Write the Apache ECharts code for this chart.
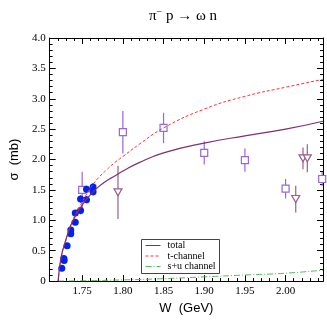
<!DOCTYPE html>
<html>
<head>
<meta charset="utf-8">
<script src="https://cdn.jsdelivr.net/npm/echarts@6/dist/echarts.min.js"></script>
<style>
  html, body { margin: 0; padding: 0; background: #fff; }
  #chart { width: 327px; height: 320px; }
</style>
</head>
<body>
<div id="chart"></div>
<script>
// axis ticks
var xMajor = [1.75, 1.80, 1.85, 1.90, 1.95, 2.00];
var xMinor = [1.72, 1.73, 1.74, 1.76, 1.77, 1.78, 1.79, 1.81, 1.82, 1.83, 1.84,
              1.86, 1.87, 1.88, 1.89, 1.91, 1.92, 1.93, 1.94, 1.96, 1.97, 1.98,
              1.99, 2.01, 2.02, 2.03, 2.04];

// curves  [W, sigma]
var totalCurve = [[1.7205, 0], [1.722, 0.2], [1.725, 0.45], [1.73, 0.68], [1.735, 0.88],
  [1.74, 1.03], [1.75, 1.25], [1.76, 1.42], [1.77, 1.55], [1.78, 1.65], [1.79, 1.73],
  [1.80, 1.81], [1.82, 1.95], [1.85, 2.11], [1.90, 2.27], [1.95, 2.39], [2.00, 2.50], [2.046, 2.63]];
var tChannel = [[1.7205, 0], [1.722, 0.2], [1.725, 0.45], [1.73, 0.68], [1.735, 0.9],
  [1.74, 1.05], [1.75, 1.3], [1.76, 1.53], [1.77, 1.7], [1.78, 1.83], [1.79, 1.95],
  [1.80, 2.05], [1.82, 2.25], [1.85, 2.52], [1.90, 2.83], [1.95, 3.04], [2.00, 3.19], [2.046, 3.32]];
var suChannel = [[1.7205, 0], [1.75, 0.005], [1.80, 0.02], [1.85, 0.04], [1.90, 0.07],
  [1.95, 0.1], [2.00, 0.13], [2.046, 0.18]];

// data points  [W, sigma, error]
var blueData = [[1.7249, 0.21, 0.04], [1.7275, 0.37, 0.04], [1.7278, 0.34, 0.04],
  [1.7315, 0.58, 0.04], [1.736, 0.84, 0.05], [1.736, 0.78, 0.05], [1.7415, 0.97, 0.05],
  [1.7415, 1.12, 0.05], [1.748, 1.16, 0.06], [1.748, 1.35, 0.06], [1.7553, 1.34, 0.06],
  [1.7553, 1.51, 0.06], [1.7634, 1.55, 0.06], [1.7634, 1.47, 0.06]];
var squareData = [[1.75, 1.50, 0.3], [1.80, 2.45, 0.35], [1.85, 2.52, 0.25],
  [1.90, 2.11, 0.19], [1.95, 1.99, 0.19], [2.00, 1.52, 0.16], [2.045, 1.68, 0.12]];
var triangleData = [[1.794, 1.46, 0.44], [2.0125, 1.35, 0.22], [2.0214, 2.02, 0.18],
  [2.0267, 2.02, 0.23]];

var chart = echarts.init(document.getElementById('chart'));

function errorBars(data, color) {
  return {
    type: 'custom',
    xAxisIndex: 0,
    yAxisIndex: 0,
    z: 2,
    silent: true,
    data: data,
    renderItem: function (params, api) {
      var top = api.coord([api.value(0), api.value(1) + api.value(2)]);
      var bot = api.coord([api.value(0), api.value(1) - api.value(2)]);
      return {
        type: 'line',
        shape: { x1: top[0], y1: top[1], x2: bot[0], y2: bot[1] },
        style: { stroke: color, lineWidth: 1.2 }
      };
    }
  };
}

var serif = 'Liberation Serif, DejaVu Serif, serif';
var sans = 'Liberation Sans, Arial, sans-serif';
var grid = { left: 32, top: 38, right: 4, bottom: 27 };

function xAx(pos, vals, len, labels) {
  return {
    type: 'value', position: pos, min: 1.71, max: 2.046,
    axisLine: { show: true, lineStyle: { color: '#000', width: 1 } },
    splitLine: { show: false },
    axisTick: { show: true, inside: true, length: len, customValues: vals,
      lineStyle: { color: '#000', width: 1 } },
    axisLabel: { show: labels, customValues: vals, margin: 5, color: '#000',
      fontFamily: serif, fontSize: 11,
      formatter: function (v) { return v.toFixed(2); } },
    name: labels ? 'W  (GeV)' : '', nameLocation: 'middle', nameGap: 18,
    nameTextStyle: { fontFamily: sans, fontSize: 13, color: '#000' }
  };
}

function yAx(pos, labels) {
  return {
    type: 'value', position: pos, min: 0, max: 4, interval: 0.5,
    axisLine: { show: true, lineStyle: { color: '#000', width: 1 } },
    splitLine: { show: false },
    axisTick: { show: true, inside: true, length: 6, lineStyle: { color: '#000' } },
    minorTick: { show: true, splitNumber: 5, length: 3, lineStyle: { color: '#000' } },
    axisLabel: { show: labels, margin: 4, color: '#000', fontFamily: serif, fontSize: 11,
      formatter: function (v) { return v === 0 ? '0' : v.toFixed(1); } },
    name: labels ? 'σ  (mb)' : '', nameLocation: 'middle', nameGap: 23,
    nameTextStyle: { fontFamily: sans, fontSize: 13, color: '#000' }
  };
}

var option = {
  backgroundColor: '#fff',
  animation: false,
  title: {
    text: 'π{s|−} p → ω n',
    left: 178, top: 2, textAlign: 'center',
    textStyle: { fontFamily: serif, fontSize: 15, fontWeight: 'normal', color: '#000',
      rich: { s: { fontFamily: serif, fontSize: 10, verticalAlign: 'top', padding: [0, 0, 8, 0] } } }
  },
  grid: grid,
  xAxis: [
    xAx('bottom', xMajor, 6, true),
    xAx('bottom', xMinor, 3, false),
    xAx('top', xMajor, 6, false),
    xAx('top', xMinor, 3, false)
  ],
  yAxis: [yAx('left', true), yAx('right', false)],
  series: [
    errorBars(blueData, '#2233cc'),
    errorBars(squareData, '#9966dd'),
    errorBars(triangleData, '#996088'),
    {
      type: 'scatter', data: squareData, symbol: 'rect', symbolSize: 7, z: 3,
      itemStyle: { color: '#fff', borderColor: '#9966dd', borderWidth: 1.2, opacity: 1 }
    },
    {
      type: 'scatter', data: triangleData, symbol: 'triangle', symbolSize: [8, 7],
      symbolRotate: 180, z: 3,
      itemStyle: { color: '#fff', borderColor: '#996088', borderWidth: 1.2, opacity: 1 }
    },
    {
      type: 'scatter', data: blueData, symbol: 'circle', symbolSize: 7, z: 4,
      itemStyle: { color: '#0022ee', opacity: 1 }
    },
    {
      type: 'line', data: suChannel, smooth: true, showSymbol: false, z: 5,
      lineStyle: { color: '#55bb55', width: 1, type: [6, 2, 1, 2] }
    },
    {
      type: 'line', data: tChannel, smooth: true, showSymbol: false, z: 5,
      lineStyle: { color: '#ff3333', width: 1, type: [3, 2] }
    },
    {
      type: 'line', data: totalCurve, smooth: true, showSymbol: false, z: 5,
      lineStyle: { color: '#7f2f6f', width: 1.2 }
    }
  ],
  graphic: [
    {
      type: 'group', left: 141, top: 239, z: 10,
      children: [
        { type: 'rect', shape: { x: 0, y: 0, width: 78, height: 34 },
          style: { fill: '#fff', stroke: '#444', lineWidth: 1 } },
        { type: 'line', shape: { x1: 4, y1: 6, x2: 19, y2: 6 },
          style: { stroke: '#7f2f6f', lineWidth: 1 } },
        { type: 'line', shape: { x1: 4, y1: 16.5, x2: 19, y2: 16.5 },
          style: { stroke: '#ff3333', lineWidth: 1, lineDash: [3, 2] } },
        { type: 'line', shape: { x1: 4, y1: 27, x2: 19, y2: 27 },
          style: { stroke: '#55bb55', lineWidth: 1, lineDash: [6, 2, 1, 2] } },
        { type: 'text', x: 26, y: 6, style: { text: 'total', font: '10px ' + serif,
          fill: '#000', verticalAlign: 'middle' } },
        { type: 'text', x: 26, y: 16.5, style: { text: 't-channel', font: '10px ' + serif,
          fill: '#000', verticalAlign: 'middle' } },
        { type: 'text', x: 26, y: 27, style: { text: 's+u channel', font: '10px ' + serif,
          fill: '#000', verticalAlign: 'middle' } }
      ]
    }
  ]
};

chart.setOption(option);
</script>
</body>
</html>
